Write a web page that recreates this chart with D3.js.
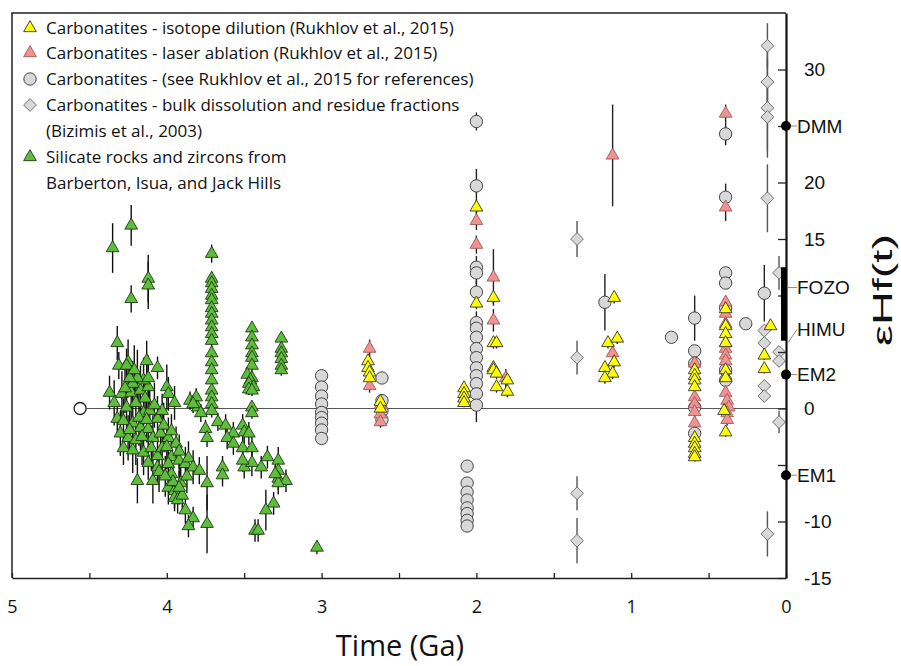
<!DOCTYPE html>
<html>
<head>
<meta charset="utf-8">
<script src="https://cdn.jsdelivr.net/npm/d3@7"></script>
<style>
  body { margin: 0; background: #fff; }
</style>
</head>
<body>
<svg id="chart" width="901" height="666"></svg>
<script>
// each point: [age (Ga), eHf(t), error]
const isotopeDilution = [
  [2.70, 4.2, 0.5], [2.70, 3.6, 0.5], [2.69, 3.2, 0.5], [2.69, 2.7, 0.5], [2.62, 0.6, 0.5], [2.62, 0.0, 0.5],
  [2.08, 1.8, 0.4], [2.08, 1.3, 0.4], [2.08, 0.9, 0.4], [2.08, 0.5, 0.4],
  [2.00, 17.8, 0.5], [2.00, 9.3, 0.5],
  [1.89, 9.8, 0.5], [1.89, 5.8, 0.5], [1.89, 3.6, 0.5], [1.89, 3.4, 0.5], [1.87, 5.8, 0.5], [1.87, 3.1, 0.5], [1.87, 1.9, 0.5],
  [1.80, 2.5, 0.5], [1.80, 1.5, 0.5],
  [1.11, 9.8, 0.5], [1.15, 5.8, 0.5], [1.09, 6.2, 0.5], [1.17, 3.6, 0.5], [1.12, 3.1, 0.5], [1.17, 2.7, 0.5], [1.11, 4.1, 0.5],
  [0.59, 3.4, 0.4], [0.59, 2.9, 0.4], [0.59, 2.5, 0.4], [0.59, 1.9, 0.4], [0.59, -2.6, 0.4], [0.59, -3.1, 0.4],
  [0.59, -3.5, 0.4], [0.59, -4.0, 0.4], [0.59, -4.3, 0.4],
  [0.39, 8.8, 0.4], [0.39, 7.3, 0.4], [0.39, 6.6, 0.4], [0.39, 5.8, 0.4], [0.39, 3.4, 0.4], [0.39, 2.7, 0.4],
  [0.40, -0.2, 0.4], [0.39, -2.1, 0.4],
  [0.14, 4.7, 0.4], [0.14, 3.5, 0.4], [0.10, 7.3, 0.4]
];

const laserAblation = [
  [2.69, 5.3, 0.8], [2.69, 2.0, 0.6], [2.62, 0.3, 0.5], [2.62, -0.5, 0.5], [2.62, -1.2, 0.5],
  [2.00, 16.6, 0.8], [2.00, 14.5, 0.8],
  [1.89, 11.6, 2.5], [1.89, 7.8, 1.0], [1.81, 2.7, 0.8],
  [1.12, 22.4, 4.5], [1.12, 4.9, 0.8],
  [0.59, 4.0, 0.5], [0.59, 1.0, 0.5], [0.59, 0.4, 0.5], [0.59, -0.3, 0.5], [0.59, -1.3, 0.5],
  [0.39, 26.1, 0.8], [0.39, 17.8, 1.2], [0.39, 9.4, 0.5], [0.39, 8.4, 0.5], [0.39, 7.5, 0.5], [0.39, 5.8, 0.5],
  [0.39, 5.3, 0.5], [0.39, 4.7, 0.5], [0.39, 4.2, 0.5], [0.39, 1.4, 0.5], [0.38, 0.7, 0.5], [0.37, 0.1, 0.5],
  [0.38, -0.4, 0.5], [0.38, -1.0, 0.5]
];

const carbonatitesRef = [
  [3.00, 2.9, 0.4], [3.00, 1.9, 0.4], [3.00, 1.1, 0.4], [3.00, 0.4, 0.4], [3.00, -0.35, 0.4], [3.00, -0.8, 0.4],
  [3.00, -1.3, 0.4], [3.00, -1.9, 0.4], [3.00, -2.65, 0.4],
  [2.61, 2.7, 0.4], [2.61, 0.7, 0.4], [2.61, -0.2, 0.4], [2.61, -1.0, 0.4],
  [2.00, 25.4, 0.8], [2.00, 19.7, 1.5], [2.00, 12.5, 1], [2.00, 12.0, 1], [2.00, 10.3, 1], [2.00, 7.6, 1],
  [2.00, 7.1, 1], [2.00, 6.3, 1], [2.00, 5.3, 1], [2.00, 4.5, 1], [2.00, 3.6, 1], [2.00, 2.9, 1], [2.00, 2.2, 1],
  [2.00, 1.3, 1], [2.00, 0.3, 1.5],
  [2.06, -5.1, 0.3], [2.06, -6.6, 0.3], [2.06, -7.4, 0.3], [2.06, -8.1, 0.3], [2.06, -8.8, 0.3], [2.06, -9.3, 0.3],
  [2.06, -9.9, 0.3], [2.06, -10.4, 0.3],
  [1.17, 9.4, 2.5], [0.74, 6.3, 0],
  [0.59, 8.0, 2.0], [0.59, 5.1, 0.5], [0.59, 4.0, 0.5], [0.59, 0.1, 0.5], [0.59, -2.2, 0.5],
  [0.39, 24.3, 1.0], [0.39, 18.7, 1.2], [0.39, 12.0, 0.5], [0.39, 11.1, 0.5], [0.39, 8.9, 0.5], [0.39, 3.4, 0.5], [0.39, 2.5, 0.5],
  [0.26, 7.5, 0], [0.14, 10.2, 2.5]
];

const bizimis = [
  [1.35, 15.0, 1.6], [1.35, 4.5, 1.5], [1.35, -7.5, 1.5], [1.35, -11.7, 2.0],
  [0.12, 32.1, 2.0], [0.12, 28.9, 3.0], [0.12, 26.6, 4.4], [0.12, 25.8, 3.0], [0.12, 18.6, 3.0],
  [0.14, 6.9, 0.5], [0.14, 5.8, 0.5], [0.14, 2.0, 0.5], [0.14, 1.1, 0.5],
  [0.045, 12.0, 1.5], [0.045, 5.0, 0.5], [0.045, 4.2, 0.5], [0.045, -1.2, 1.0],
  [0.12, -11.1, 2.0]
];

const silicate = [
  [4.35, 14.2, 2.2], [4.23, 16.2, 1.8], [4.23, 9.7, 1.2], [4.12, 11.5, 2.1], [4.12, 10.9, 2.1],
  [3.71, 13.7, 0.8], [3.71, 11.5, 0.6], [3.71, 11.1, 0.6], [3.71, 10.6, 0.6], [3.71, 10.0, 0.6], [3.71, 9.6, 0.6],
  [3.71, 8.9, 0.6], [3.71, 8.4, 0.6], [3.71, 7.8, 0.6], [3.71, 7.2, 0.6], [3.71, 6.6, 0.6], [3.71, 6.0, 0.6],
  [3.71, 4.9, 0.6], [3.71, 4.1, 0.6], [3.71, 3.4, 0.6], [3.71, 2.5, 0.6], [3.71, 1.6, 0.6], [3.71, 1.0, 0.6],
  [3.71, 0.4, 0.6], [3.71, -0.2, 0.6],
  [3.45, 7.1, 0.5], [3.45, 6.3, 0.5], [3.45, 5.6, 0.5], [3.45, 4.9, 0.5], [3.45, 4.5, 0.5], [3.45, 3.8, 0.5],
  [3.48, 3.0, 0.5], [3.45, 2.7, 0.5], [3.46, 2.5, 0.5], [3.47, 2.2, 0.5], [3.44, 1.9, 0.5], [3.47, 1.7, 0.5],
  [3.45, 1.6, 0.5], [3.45, 0.1, 0.5], [3.45, -0.4, 0.5],
  [3.26, 6.2, 0.5], [3.26, 5.3, 0.5], [3.26, 4.9, 0.5], [3.26, 4.4, 0.5], [3.26, 3.8, 0.5], [3.26, 3.4, 0.5],
  [3.03, -12.3, 0.6],
  [4.32, 5.8, 1.5], [4.25, 4.1, 2.0], [4.31, 3.8, 1.2], [4.26, 3.8, 1.5], [4.13, 4.2, 1.8], [4.06, 3.6, 1.0],
  [4.37, 1.4, 1.5], [4.34, 0.5, 2.0], [4.29, 1.3, 2.0], [4.23, 1.4, 2.5], [4.17, 1.6, 2.2], [4.12, 1.9, 2.5],
  [4.00, 1.9, 2.0], [3.99, 1.3, 1.5],
  [4.22, 2.2, 2.0], [4.15, 2.5, 2.0], [4.19, 2.7, 2.5], [4.12, 2.7, 2.0], [4.24, 2.7, 1.5],
  [4.26, 0.1, 2.0], [4.15, -0.4, 2.5], [4.11, -0.2, 2.0], [4.06, -0.9, 2.0], [4.03, -0.2, 1.5],
  [4.32, -0.9, 1.5], [4.28, -1.1, 2.0], [4.22, -1.3, 2.5], [4.17, -1.7, 2.0],
  [4.30, -2.2, 2.0], [4.25, -2.6, 2.0], [4.20, -2.8, 2.2], [4.12, -1.8, 2.0], [4.09, -2.6, 2.0], [4.04, -2.2, 2.0],
  [3.99, -2.6, 1.8], [3.94, -3.1, 1.5],
  [4.28, -3.5, 1.5], [4.22, -3.7, 2.0], [4.15, -3.9, 2.0], [4.10, -3.5, 2.0], [4.06, -4.2, 2.0], [4.03, -3.5, 2.0],
  [3.97, -4.3, 1.5], [3.92, -4.6, 1.5], [3.88, -4.9, 1.5],
  [4.19, -6.4, 2.0], [4.09, -6.4, 2.0], [4.12, -4.8, 1.5], [4.06, -5.2, 1.5], [3.99, -4.9, 1.5],
  [3.99, -7.0, 1.5], [3.95, -7.3, 1.5], [3.91, -6.6, 1.5], [3.95, -7.9, 1.2], [3.93, -8.1, 1.2], [3.90, -7.7, 1.2],
  [3.86, -4.4, 1.5], [3.83, -5.2, 1.5], [3.79, -5.5, 1.2],
  [3.88, -9.0, 1.2], [3.83, -9.7, 1.0], [3.86, -10.4, 1.0],
  [3.74, -6.6, 2.4], [3.74, -10.2, 2.6],
  [3.64, -5.2, 1.0], [3.64, -5.9, 1.0],
  [3.85, 0.7, 0.8], [3.81, 1.0, 0.8], [3.80, 0.1, 0.8], [3.83, 0.4, 0.8], [3.78, -0.4, 0.8],
  [3.75, -1.8, 0.8], [3.74, -2.6, 0.8],
  [3.67, -1.2, 0.8], [3.62, -1.5, 1.0], [3.57, -2.2, 1.0], [3.61, -2.6, 1.0], [3.57, -3.1, 1.0],
  [3.51, -1.5, 1.0], [3.50, -2.1, 1.0], [3.47, -2.2, 1.0], [3.51, -3.5, 1.0], [3.45, -3.5, 1.0], [3.50, -5.2, 1.0],
  [3.45, -4.8, 1.2], [3.39, -5.2, 1.0], [3.51, -4.6, 1.0],
  [3.35, -4.3, 1.0], [3.28, -4.6, 1.2], [3.28, -5.5, 1.2], [3.28, -6.2, 1.0], [3.23, -6.4, 1.0], [3.28, -6.6, 1.0],
  [3.30, -5.8, 1.0],
  [3.31, -8.4, 1.0], [3.36, -9.0, 1.8], [3.43, -10.8, 1.0], [3.41, -10.8, 1.0],
  [4.20, 0.5, 2.5], [4.18, -0.8, 2.5], [4.14, 0.9, 2.0], [4.08, 0.3, 2.0], [4.02, -1.5, 2.0], [4.00, -3.4, 2.0],
  [4.16, -2.5, 2.5], [4.24, -1.9, 2.0], [4.27, 1.8, 2.2], [4.21, 3.4, 2.2], [4.13, -1.0, 2.0], [3.97, -5.8, 1.5],
  [3.96, -6.5, 1.5], [4.05, -5.6, 1.8], [4.01, -6.0, 1.8], [3.92, -7.0, 1.5], [3.97, -2.0, 1.5], [3.92, -3.8, 1.5],
  [3.87, -6.0, 1.5], [3.95, 0.5, 1.5]
];

const chur = [4.56, 0];

const endmemberNames = ["DMM", "EM2", "EM1"];
const endmemberValues = [25, 3, -5.9];
const fozoHimuRange = [6, 12.5];
const fozoHimuLabels = ["FOZO", "HIMU"];
const fozoHimuLabelValues = [10.7, 7.0];

const legendLabels = [
  ["Carbonatites - isotope dilution (Rukhlov et al., 2015)"],
  ["Carbonatites - laser ablation (Rukhlov et al., 2015)"],
  ["Carbonatites - (see Rukhlov et al., 2015 for references)"],
  ["Carbonatites - bulk dissolution and residue fractions", "(Bizimis et al., 2003)"],
  ["Silicate rocks and zircons from", "Barberton, Isua, and Jack Hills"]
];

const xTicks = [5, 4.5, 4, 3.5, 3, 2.5, 2, 1.5, 1, 0.5, 0];
const yTicks = [-15, -10, -5, 0, 5, 10, 15, 20, 25, 30];
const yLabeled = [-15, -10, 0, 15, 20, 30];

const svg = d3.select("#chart");
const x = d3.scaleLinear().domain([5, 0]).range([12, 786]);
const y = d3.scaleLinear().domain([-15, 35]).range([578, 13]);

const tri = d3.symbol(d3.symbolTriangle, 70);
const circ = d3.symbol(d3.symbolCircle, 120);
const diam = d3.symbol(d3.symbolSquare, 82);

const series = [
  { data: carbonatitesRef, sym: circ, rot: 0, fill: "#d8d8d8", stroke: "#333", err: "#222" },
  { data: bizimis, sym: diam, rot: 45, fill: "#d8d8d8", stroke: "#6a6a6a", err: "#555" },
  { data: laserAblation, sym: tri, rot: 0, fill: "#ee9392", stroke: "#a05a5a", err: "#222" },
  { data: isotopeDilution, sym: tri, rot: 0, fill: "#ffff00", stroke: "#333", err: "#222" },
  { data: silicate, sym: tri, rot: 0, fill: "#5fbd3e", stroke: "#1d3a10", err: "#111" }
];

// zero line from the solar-system start
svg.append("line")
  .attr("x1", x(chur[0])).attr("x2", x(0))
  .attr("y1", y(0)).attr("y2", y(0))
  .attr("stroke", "#555").attr("stroke-width", 1.2);

// error bars first
series.forEach(s => {
  svg.append("g").selectAll("line")
    .data(s.data.filter(d => d[2] > 0))
    .enter().append("line")
    .attr("x1", d => x(d[0])).attr("x2", d => x(d[0]))
    .attr("y1", d => y(d[1] - d[2])).attr("y2", d => y(d[1] + d[2]))
    .attr("stroke", s.err).attr("stroke-width", 1.4);
});

series.forEach(s => {
  svg.append("g").selectAll("path")
    .data(s.data)
    .enter().append("path")
    .attr("d", s.sym)
    .attr("transform", d => `translate(${x(d[0])},${y(d[1])}) rotate(${s.rot})`)
    .attr("fill", s.fill)
    .attr("stroke", s.stroke)
    .attr("stroke-width", 0.9);
});

svg.append("circle")
  .attr("cx", x(chur[0])).attr("cy", y(chur[1])).attr("r", 6)
  .attr("fill", "#fff").attr("stroke", "#222").attr("stroke-width", 1.3);

// frame: top and left
svg.append("path")
  .attr("d", `M${x(5)},${y(-15)}V${y(35)}H${x(0)}`)
  .attr("fill", "none").attr("stroke", "#222").attr("stroke-width", 1.5);

// bottom axis
const xAxis = svg.append("g")
  .attr("transform", `translate(0,${y(-15)})`)
  .call(d3.axisBottom(x).tickValues(xTicks).tickSizeInner(-5).tickSizeOuter(0).tickPadding(22)
    .tickFormat(d => Number.isInteger(d) ? d : ""));
xAxis.select(".domain").attr("stroke", "#222").attr("stroke-width", 1.5);
xAxis.selectAll(".tick line").attr("stroke", "#222").attr("stroke-width", 1.3);
xAxis.selectAll("text").attr("font-family", "Open Sans").attr("font-size", 18).attr("fill", "#111");

// right axis
const yAxis = svg.append("g")
  .attr("transform", `translate(${x(0)},0)`)
  .call(d3.axisRight(y).tickValues(yTicks).tickSizeInner(-8).tickSizeOuter(0).tickPadding(18)
    .tickFormat(d => yLabeled.includes(d) ? d : ""));
yAxis.select(".domain").attr("stroke", "#111").attr("stroke-width", 2.2);
yAxis.selectAll(".tick line").attr("stroke", "#222").attr("stroke-width", 1.3);
yAxis.selectAll("text").attr("font-family", "Liberation Sans, Arial").attr("font-size", 19).attr("fill", "#111");

// mantle end-members
svg.append("rect")
  .attr("x", x(0) - 5).attr("width", 5.5)
  .attr("y", y(fozoHimuRange[1])).attr("height", y(fozoHimuRange[0]) - y(fozoHimuRange[1]))
  .attr("fill", "#000");

const em = svg.append("g").selectAll("g")
  .data(endmemberNames.map((n, i) => [n, endmemberValues[i]]))
  .enter().append("g");
em.append("line")
  .attr("x1", x(0) + 3).attr("x2", x(0) + 11)
  .attr("y1", d => y(d[1])).attr("y2", d => y(d[1]))
  .attr("stroke", "#888").attr("stroke-width", 1);
em.append("circle")
  .attr("cx", x(0)).attr("cy", d => y(d[1])).attr("r", 5).attr("fill", "#000");
em.append("text")
  .attr("x", x(0) + 11).attr("y", d => y(d[1])).attr("dy", "0.36em")
  .attr("font-family", "Liberation Sans, Arial").attr("font-size", 19).attr("fill", "#111")
  .text(d => d[0]);

const fh = svg.append("g").selectAll("g")
  .data(fozoHimuLabels.map((n, i) => [n, fozoHimuLabelValues[i]]))
  .enter().append("g");
fh.append("line")
  .attr("x1", x(0) + 2).attr("x2", x(0) + 11)
  .attr("y1", (d, i) => i === 0 ? y(d[1]) : y(fozoHimuRange[0]) + 2)
  .attr("y2", d => y(d[1]))
  .attr("stroke", "#888").attr("stroke-width", 1);
fh.append("text")
  .attr("x", x(0) + 11).attr("y", d => y(d[1])).attr("dy", "0.36em")
  .attr("font-family", "Liberation Sans, Arial").attr("font-size", 19).attr("fill", "#111")
  .text(d => d[0]);

// axis titles
svg.append("text")
  .attr("x", 400).attr("y", 656).attr("text-anchor", "middle")
  .attr("font-family", "Open Sans").attr("font-size", 29).attr("fill", "#111")
  .text("Time (Ga)");
svg.append("text")
  .attr("transform", "translate(892,290) rotate(-90)")
  .attr("text-anchor", "middle")
  .attr("font-family", "Liberation Sans, Arial").attr("font-size", 27).attr("fill", "#111")
  .attr("textLength", 112).attr("lengthAdjust", "spacingAndGlyphs")
  .text("εHf(t)");

// legend
const legendRows = [28, 53, 79, 105, 157];
const legendStyles = [series[3], series[2], series[0], series[1], series[4]];
const lg = svg.append("g").selectAll("g")
  .data(legendLabels)
  .enter().append("g")
  .attr("transform", (d, i) => `translate(30,${legendRows[i]})`);
lg.append("path")
  .attr("d", (d, i) => legendStyles[i].sym())
  .attr("transform", (d, i) => `rotate(${legendStyles[i].rot})`)
  .attr("fill", (d, i) => legendStyles[i].fill)
  .attr("stroke", (d, i) => legendStyles[i].stroke)
  .attr("stroke-width", 0.9);
lg.each(function (lines) {
  d3.select(this).selectAll("text")
    .data(lines)
    .enter().append("text")
    .attr("x", 16).attr("y", (d, j) => j * 26).attr("dy", "0.35em")
    .attr("font-family", "Open Sans").attr("font-size", 17).attr("fill", "#111")
    .text(d => d);
});
</script>
</body>
</html>
